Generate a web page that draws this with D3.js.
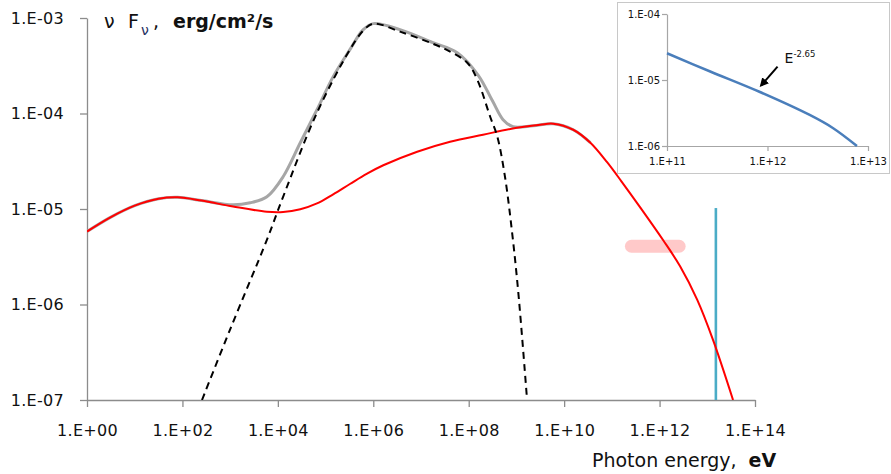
<!DOCTYPE html>
<html>
<head>
<meta charset="utf-8">
<script src="https://cdn.jsdelivr.net/npm/d3@7"></script>
<style>
  body { margin: 0; background: #fff; }
  svg { display: block; }
</style>
</head>
<body>
<svg id="chart"></svg>
<script>
// values, as log10(E / eV) and log10(nuFnu / erg cm-2 s-1)
const redLogE = [0, 0.5, 1.0, 1.5, 1.9, 2.4, 3.06, 3.77, 4.11, 4.47, 4.82, 5.16, 5.51, 5.86, 6.21, 6.92, 7.61, 8.30, 9.01, 9.50, 9.77, 10.19, 10.55, 10.9, 11.2, 11.59, 12.08, 12.43, 12.79, 13.12, 13.54];
const redLogF = [-5.236, -5.085, -4.965, -4.893, -4.878, -4.912, -4.974, -5.029, -5.032, -5.003, -4.942, -4.846, -4.738, -4.632, -4.542, -4.400, -4.296, -4.222, -4.149, -4.117, -4.107, -4.170, -4.306, -4.51, -4.71, -4.98, -5.33, -5.60, -5.952, -6.371, -7.0];

const grayLogE = [0, 0.5, 1.0, 1.5, 1.9, 2.4, 3.06, 3.42, 3.77, 4.11, 4.47, 4.82, 5.16, 5.51, 5.79, 6.0, 6.56, 7.25, 7.76, 8.2, 8.5, 8.72, 8.93, 9.35, 9.77, 10.19, 10.55];
const grayLogF = [-5.236, -5.085, -4.965, -4.893, -4.878, -4.912, -4.956, -4.935, -4.872, -4.662, -4.306, -3.960, -3.614, -3.331, -3.122, -3.059, -3.122, -3.258, -3.363, -3.600, -3.870, -4.065, -4.138, -4.128, -4.107, -4.170, -4.306];

const dashLogE = [2.41, 3.0, 3.77, 4.11, 4.82, 5.51, 5.79, 6.0, 6.56, 7.25, 7.61, 7.97, 8.18, 8.45, 8.60, 8.76, 8.91, 9.04, 9.22];
const dashLogF = [-7.0, -6.26, -5.323, -4.872, -3.992, -3.331, -3.132, -3.059, -3.143, -3.27, -3.352, -3.468, -3.646, -4.034, -4.243, -4.662, -5.25, -5.878, -6.979];

// pink band (measurement) and blue vertical marker
const bandLogE = [11.41, 12.41];
const bandLogF = -5.39;
const markLogE = 13.18;
const markLogF = [-7, -4.99];

// inset spectrum
const insetLogE = [11.0, 11.43, 11.925, 12.42, 12.65, 12.89];
const insetLogF = [-4.595, -4.871, -5.182, -5.530, -5.727, -6.0];
const arrowLogE = [12.10, 11.94];
const arrowLogF = [-4.798, -5.076];
const slopeLabelAt = [12.17, -4.747];

// ticks
const xTicks = [1e0, 1e2, 1e4, 1e6, 1e8, 1e10, 1e12, 1e14];
const xTickLabels = ["1.E+00", "1.E+02", "1.E+04", "1.E+06", "1.E+08", "1.E+10", "1.E+12", "1.E+14"];
const yTicks = [1e-7, 1e-6, 1e-5, 1e-4, 1e-3];
const yTickLabels = ["1.E-07", "1.E-06", "1.E-05", "1.E-04", "1.E-03"];
const insetXTicks = [1e11, 1e12, 1e13];
const insetXTickLabels = ["1.E+11", "1.E+12", "1.E+13"];
const insetYTicks = [1e-6, 1e-5, 1e-4];
const insetYTickLabels = ["1.E-06", "1.E-05", "1.E-04"];

const W = 891, H = 474;
const font = "'DejaVu Sans', 'Liberation Sans', sans-serif";

const svg = d3.select("#chart").attr("width", W).attr("height", H);

const toPts = (le, lf) => le.map((e, i) => [Math.pow(10, e), Math.pow(10, lf[i])]);

// main chart scales
const xScale = d3.scaleLog().domain([1e0, 1e14]).range([87, 755]);
const yScale = d3.scaleLog().domain([1e-7, 1e-3]).range([400, 18]);

svg.append("defs").append("clipPath").attr("id", "plotclip")
  .append("rect")
    .attr("x", xScale(1e0)).attr("y", yScale(1e-3))
    .attr("width", xScale(1e14) - xScale(1e0))
    .attr("height", yScale(1e-7) - yScale(1e-3));

const line = d3.line()
  .x(d => xScale(d[0]))
  .y(d => yScale(d[1]))
  .curve(d3.curveCatmullRom.alpha(0.5));

// axes
const yAxis = d3.axisLeft(yScale)
  .tickValues(yTicks)
  .tickFormat((d, i) => yTickLabels[i])
  .tickSizeInner(7).tickSizeOuter(0).tickPadding(16);
const xAxis = d3.axisBottom(xScale)
  .tickValues(xTicks)
  .tickFormat((d, i) => xTickLabels[i])
  .tickSizeInner(7).tickSizeOuter(0).tickPadding(18);

const gy = svg.append("g").attr("transform", `translate(${xScale(1e0)},0)`).call(yAxis);
const gx = svg.append("g").attr("transform", `translate(0,${yScale(1e-7)})`).call(xAxis);
[gx, gy].forEach(g => {
  g.selectAll("path,line").style("stroke", "#8c8c8c").style("stroke-width", 1.3);
  g.selectAll("text")
    .style("font-family", font).style("font-size", "16px")
    .style("fill", "#111").style("letter-spacing", "0.3px");
});

const plot = svg.append("g").attr("clip-path", "url(#plotclip)");

// pink band
plot.append("line")
  .attr("x1", xScale(Math.pow(10, bandLogE[0])))
  .attr("x2", xScale(Math.pow(10, bandLogE[1])))
  .attr("y1", yScale(Math.pow(10, bandLogF)))
  .attr("y2", yScale(Math.pow(10, bandLogF)))
  .style("stroke", "#ffc9c9")
  .style("stroke-width", 13)
  .style("stroke-linecap", "round");

// blue vertical marker
plot.append("line")
  .attr("x1", xScale(Math.pow(10, markLogE)))
  .attr("x2", xScale(Math.pow(10, markLogE)))
  .attr("y1", yScale(Math.pow(10, markLogF[0])))
  .attr("y2", yScale(Math.pow(10, markLogF[1])))
  .style("stroke", "#4bacc6")
  .style("stroke-width", 2.6);

// total (gray)
plot.append("path")
  .datum(toPts(grayLogE, grayLogF))
  .attr("d", line)
  .style("fill", "none")
  .style("stroke", "#a6a6a6")
  .style("stroke-width", 3);

// red component
plot.append("path")
  .datum(toPts(redLogE, redLogF))
  .attr("d", line)
  .style("fill", "none")
  .style("stroke", "#ff0000")
  .style("stroke-width", 2);

// dashed component
plot.append("path")
  .datum(toPts(dashLogE, dashLogF))
  .attr("d", line)
  .style("fill", "none")
  .style("stroke", "#000")
  .style("stroke-width", 2)
  .style("stroke-dasharray", "7,5");

// y title
const title = svg.append("g").style("font-family", font).style("fill", "#111");
title.append("text").attr("x", 104).attr("y", 28).style("font-size", "19px").text("ν");
title.append("text").attr("x", 128).attr("y", 28).style("font-size", "19px").text("F");
title.append("text").attr("x", 141).attr("y", 35).style("font-size", "14px").style("fill", "#1f2f5f").text("ν");
title.append("text").attr("x", 153).attr("y", 28).style("font-size", "19px").text(",");
title.append("text").attr("x", 173).attr("y", 28).style("font-size", "19px").style("font-weight", "bold").text("erg/cm²/s");

// x title
const xt = svg.append("text").attr("x", 592).attr("y", 467)
  .style("font-family", font).style("font-size", "19px").style("fill", "#111");
xt.append("tspan").text("Photon energy,\u00a0\u00a0");
xt.append("tspan").style("font-weight", "bold").text("eV");

// ---------------- inset ----------------
svg.append("rect")
  .attr("x", 617.5).attr("y", 2.5).attr("width", 272).attr("height", 171)
  .style("fill", "#fff").style("stroke", "#c8c8c8").style("stroke-width", 1);

const ixScale = d3.scaleLog().domain([1e11, 1e13]).range([667, 868]);
const iyScale = d3.scaleLog().domain([1e-6, 1e-4]).range([146, 14]);

const iyAxis = d3.axisLeft(iyScale)
  .tickValues(insetYTicks)
  .tickFormat((d, i) => insetYTickLabels[i])
  .tickSizeInner(5).tickSizeOuter(0).tickPadding(2);
const ixAxis = d3.axisBottom(ixScale)
  .tickValues(insetXTicks)
  .tickFormat((d, i) => insetXTickLabels[i])
  .tickSizeInner(5).tickSizeOuter(0).tickPadding(7);

const igy = svg.append("g").attr("transform", `translate(${ixScale(1e11)},0)`).call(iyAxis);
const igx = svg.append("g").attr("transform", `translate(0,${iyScale(1e-6)})`).call(ixAxis);
[igx, igy].forEach(g => {
  g.selectAll("path,line").style("stroke", "#a6a6a6").style("stroke-width", 1.2);
  g.selectAll("text")
    .style("font-family", font).style("font-size", "10px").style("fill", "#111");
});

const iline = d3.line()
  .x(d => ixScale(d[0]))
  .y(d => iyScale(d[1]))
  .curve(d3.curveCatmullRom.alpha(0.5));

svg.append("path")
  .datum(toPts(insetLogE, insetLogF))
  .attr("d", iline)
  .style("fill", "none")
  .style("stroke", "#4a7ebb")
  .style("stroke-width", 2.5);

svg.select("defs").append("marker")
  .attr("id", "arrowhead")
  .attr("viewBox", "0 0 10 10")
  .attr("refX", 7).attr("refY", 5)
  .attr("markerWidth", 4.5).attr("markerHeight", 4.5)
  .attr("orient", "auto")
  .append("path").attr("d", "M0,0 L10,5 L0,10 z").style("fill", "#000");

svg.append("line")
  .attr("x1", ixScale(Math.pow(10, arrowLogE[0])))
  .attr("y1", iyScale(Math.pow(10, arrowLogF[0])))
  .attr("x2", ixScale(Math.pow(10, arrowLogE[1])))
  .attr("y2", iyScale(Math.pow(10, arrowLogF[1])))
  .style("stroke", "#000")
  .style("stroke-width", 2)
  .attr("marker-end", "url(#arrowhead)");

const sl = svg.append("text")
  .attr("x", ixScale(Math.pow(10, slopeLabelAt[0])))
  .attr("y", iyScale(Math.pow(10, slopeLabelAt[1])))
  .style("font-family", font).style("font-size", "14px").style("fill", "#111");
sl.append("tspan").text("E");
sl.append("tspan").attr("dy", -6).style("font-size", "8.5px").text("-2.65");
</script>
</body>
</html>
